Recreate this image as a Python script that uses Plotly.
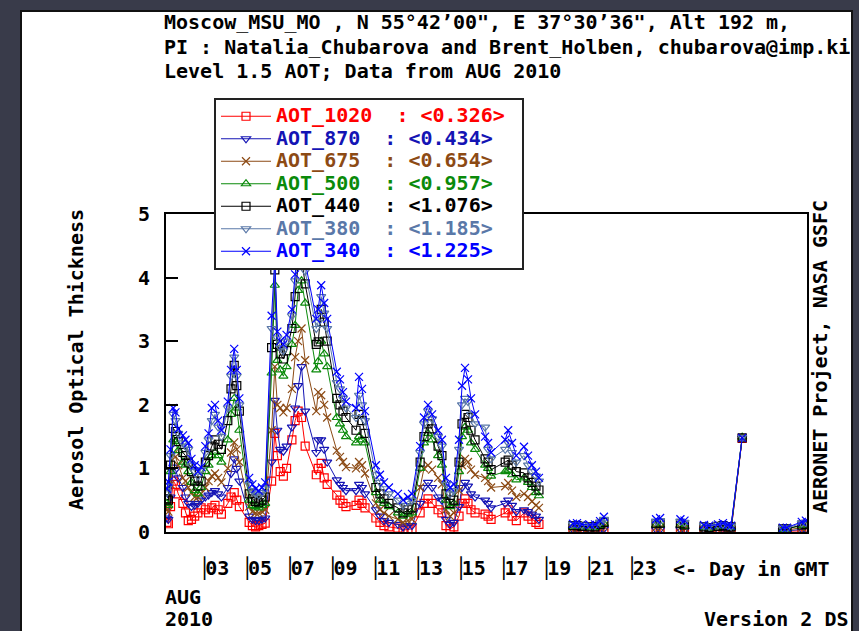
import plotly.graph_objects as go

# ---------------- data ----------------
day_gmt = [1.25, 1.32, 1.42, 1.55, 1.65, 1.78,
           2.00, 2.12, 2.25, 2.40, 2.55, 2.70, 2.85,
           3.05, 3.20, 3.35, 3.50, 3.65, 3.80,
           4.10, 4.25, 4.40, 4.52, 4.64,
           5.10, 5.25, 5.40, 5.55, 5.70, 5.85,
           6.15, 6.30, 6.42, 6.55, 6.70, 6.85,
           7.10, 7.25, 7.39, 7.55, 7.72,
           8.24, 8.33, 8.47, 8.61, 8.75,
           9.20, 9.35, 9.49, 9.63,
           10.10, 10.24, 10.38, 10.52,
           11.03, 11.22, 11.41, 11.64,
           12.06, 12.30, 12.53, 12.72,
           13.10, 13.28, 13.47, 13.66, 13.94,
           14.12, 14.31, 14.50, 14.68, 14.92,
           15.06, 15.20, 15.34, 15.48, 15.67,
           16.14, 16.28, 16.42,
           17.08, 17.22, 17.40, 17.60, 17.96,
           18.15, 18.33, 18.52, 18.66,
           20.25, 20.44, 20.67,
           21.05, 21.28, 21.52, 21.70,
           24.14, 24.33,
           25.28, 25.47,
           26.38, 26.62,
           27.04, 27.27, 27.50, 27.65,
           28.17,
           30.07, 30.26, 30.96, 31.15]

aot_1020 = [0.15, 0.13, 0.40, 0.80, 0.75, 0.60,
            0.45, 0.30, 0.18, 0.20, 0.25, 0.30, 0.38,
            0.35, 0.30, 0.38, 0.42, 0.35, 0.28,
            0.45, 0.55, 0.62, 0.50, 0.40,
            0.15, 0.10, 0.08, 0.10, 0.12, 0.14,
            0.80, 1.55, 1.20, 0.95, 0.88, 1.00,
            1.45, 1.75, 1.90, 1.80, 1.35,
            0.90, 1.00, 1.08, 0.85, 0.75,
            0.58, 0.50, 0.45, 0.40,
            0.42, 0.50, 0.45, 0.38,
            0.22, 0.15, 0.10, 0.08,
            0.06, 0.03, 0.04, 0.05,
            0.30, 0.45, 0.52, 0.45, 0.35,
            0.30, 0.10, 0.05, 0.08, 0.25,
            0.45, 0.52, 0.45, 0.35, 0.30,
            0.28, 0.25, 0.20,
            0.30, 0.35, 0.25, 0.18, 0.30,
            0.25, 0.20, 0.15, 0.12,
            0.02, 0.02, 0.02,
            0.02, 0.01, 0.02, 0.03,
            0.02, 0.02,
            0.02, 0.01,
            0.02, 0.01,
            0.02, 0.02, 0.01, 0.02,
            1.47,
            0.01, 0.01, 0.02, 0.02]

aot_870 = [0.22, 0.20, 0.55, 1.02, 0.98, 0.85,
           0.70, 0.55, 0.45, 0.40, 0.42, 0.45, 0.50,
           0.55, 0.58, 0.62, 0.65, 0.60, 0.55,
           0.70, 0.92, 1.15, 1.00, 0.80,
           0.25, 0.20, 0.18, 0.18, 0.20, 0.22,
           1.10, 2.07, 1.60, 1.30, 1.27, 1.35,
           1.65, 1.95, 2.30, 2.60, 1.90,
           1.25, 1.45, 1.45, 1.30, 1.10,
           0.82, 0.75, 0.70, 0.65,
           0.65, 0.75, 0.70, 0.60,
           0.35, 0.25, 0.18, 0.15,
           0.12, 0.08, 0.10, 0.10,
           0.45, 0.70, 0.78, 0.70, 0.55,
           0.50, 0.20, 0.12, 0.15, 0.40,
           0.70, 0.78, 0.72, 0.60, 0.55,
           0.50, 0.45, 0.38,
           0.45, 0.50, 0.42, 0.32, 0.35,
           0.32, 0.28, 0.25, 0.20,
           0.04, 0.04, 0.03,
           0.03, 0.03, 0.04, 0.05,
           0.04, 0.04,
           0.04, 0.03,
           0.03, 0.03,
           0.03, 0.04, 0.03, 0.03,
           1.48,
           0.02, 0.02, 0.04, 0.04]

aot_675 = [0.35, 0.32, 0.75, 1.22, 1.18, 1.05,
           0.85, 0.80, 0.70, 0.62, 0.55, 0.55, 0.60,
           0.70, 0.80, 0.88, 0.92, 0.85, 0.78,
           1.00, 1.25, 1.41, 1.30, 1.10,
           0.40, 0.32, 0.30, 0.30, 0.32, 0.35,
           1.60, 2.60, 2.00, 1.95, 1.88, 1.95,
           2.25, 2.75, 3.00, 3.20, 2.70,
           1.90, 2.20, 2.15, 2.00, 1.80,
           1.28, 1.18, 1.10, 1.02,
           1.00, 1.10, 1.05, 0.92,
           0.45, 0.35, 0.30, 0.25,
           0.20, 0.15, 0.18, 0.20,
           0.70, 1.00, 1.05, 0.98, 0.85,
           0.75, 0.35, 0.25, 0.30, 0.65,
           1.05, 1.15, 1.10, 0.98, 0.90,
           0.85, 0.80, 0.70,
           0.72, 0.77, 0.65, 0.55, 0.60,
           0.55, 0.48, 0.42, 0.38,
           0.06, 0.06, 0.05,
           0.05, 0.05, 0.07, 0.09,
           0.07, 0.07,
           0.07, 0.06,
           0.05, 0.05,
           0.05, 0.06, 0.05, 0.05,
           1.48,
           0.03, 0.03, 0.07, 0.07]

aot_500 = [0.45, 0.42, 0.95, 1.45, 1.42, 1.28,
           1.10, 1.05, 0.95, 0.78, 0.65, 0.60, 0.70,
           0.95, 1.05, 1.20, 1.25, 1.20, 1.10,
           1.45, 1.85, 2.10, 1.95, 1.60,
           0.50, 0.42, 0.40, 0.38, 0.42, 0.45,
           2.50, 3.88, 2.70, 2.55, 2.45, 2.60,
           2.95, 3.25, 3.80, 3.95, 3.60,
           2.55, 2.68, 3.00, 2.80, 2.60,
           1.80, 1.70, 1.60, 1.50,
           1.40, 1.50, 1.45, 1.40,
           0.62, 0.50, 0.45, 0.40,
           0.30, 0.25, 0.28, 0.30,
           1.00, 1.40, 1.55, 1.45, 1.20,
           1.05, 0.50, 0.40, 0.45, 0.95,
           1.50, 1.65, 1.60, 1.40, 1.30,
           1.05, 1.00, 0.88,
           0.95, 0.97, 0.90, 0.82, 0.85,
           0.78, 0.70, 0.62, 0.57,
           0.08, 0.09, 0.08,
           0.07, 0.07, 0.10, 0.13,
           0.11, 0.11,
           0.11, 0.09,
           0.07, 0.06,
           0.08, 0.09, 0.07, 0.07,
           1.49,
           0.04, 0.05, 0.10, 0.11]

aot_440 = [0.52, 0.50, 1.05, 1.63, 1.58, 1.42,
           1.25, 1.20, 1.10, 0.95, 0.80, 0.72, 0.80,
           1.10, 1.20, 1.35, 1.45, 1.38, 1.30,
           1.75, 2.25, 2.62, 2.30, 1.90,
           0.60, 0.52, 0.48, 0.46, 0.50, 0.55,
           2.90, 4.12, 2.95, 2.80, 2.72, 2.85,
           3.20, 3.70, 4.20, 4.30, 3.90,
           2.95, 2.99, 3.50, 3.30, 3.00,
           2.10, 2.00, 1.90, 1.80,
           1.60, 1.85, 1.75, 1.55,
           0.70, 0.60, 0.52, 0.45,
           0.38, 0.30, 0.35, 0.38,
           1.10, 1.50, 1.70, 1.62, 1.35,
           1.20, 0.60, 0.45, 0.50, 1.10,
           1.70, 1.85, 1.80, 1.60, 1.45,
           1.15, 1.10, 0.98,
           1.10, 1.13, 1.05, 0.95, 0.93,
           0.85, 0.78, 0.72, 0.66,
           0.10, 0.10, 0.09,
           0.08, 0.08, 0.12, 0.15,
           0.13, 0.14,
           0.13, 0.11,
           0.08, 0.07,
           0.09, 0.10, 0.08, 0.08,
           1.48,
           0.05, 0.05, 0.11, 0.12]

aot_380 = [0.62, 0.72, 1.20, 1.85, 1.75, 1.55,
           1.40, 1.35, 1.30, 1.05, 0.95, 0.88, 0.98,
           1.25, 1.45, 1.75, 1.85, 1.65, 1.50,
           1.95, 2.45, 2.75, 2.45, 2.00,
           0.75, 0.65, 0.60, 0.58, 0.62, 0.68,
           3.20, 4.20, 3.05, 2.90, 2.85, 3.00,
           3.40, 3.95, 4.40, 4.50, 4.10,
           3.20, 3.30, 3.70, 3.44, 3.20,
           2.35, 2.25, 2.10, 1.95,
           1.80, 2.15, 2.00, 1.75,
           0.90, 0.78, 0.68, 0.60,
           0.50, 0.42, 0.48, 0.50,
           1.25, 1.70, 1.90, 1.78, 1.50,
           1.35, 0.75, 0.60, 0.65, 1.30,
           2.00, 2.10, 2.05, 1.85, 1.70,
           1.65, 1.30, 1.15,
           1.30, 1.40, 1.25, 1.10, 1.20,
           1.05, 0.95, 0.88, 0.80,
           0.12, 0.12, 0.11,
           0.10, 0.10, 0.15, 0.20,
           0.17, 0.18,
           0.17, 0.15,
           0.10, 0.09,
           0.11, 0.12, 0.10, 0.09,
           1.49,
           0.06, 0.06, 0.14, 0.15]

aot_340 = [0.68, 0.79, 1.30, 1.95, 1.88, 1.62,
           1.52, 1.45, 1.40, 1.15, 1.05, 0.95, 1.02,
           1.35, 1.55, 1.95, 2.00, 1.75, 1.60,
           2.05, 2.55, 2.88, 2.55, 2.10,
           0.85, 0.75, 0.68, 0.65, 0.70, 0.78,
           3.40, 4.30, 3.15, 3.00, 2.95, 3.10,
           3.50, 4.05, 4.50, 4.65, 4.25,
           3.35, 3.50, 3.88, 3.60, 3.35,
           2.52, 2.40, 2.20, 2.05,
           1.95, 2.44, 2.25, 1.90,
           1.05, 0.90, 0.78, 0.70,
           0.60, 0.50, 0.55, 0.60,
           1.35, 1.80, 2.00, 1.85, 1.60,
           1.45, 0.85, 0.70, 0.75, 1.45,
           2.30, 2.58, 2.40, 2.10, 1.85,
           1.50, 1.40, 1.25,
           1.45, 1.60, 1.40, 1.20, 1.34,
           1.20, 1.05, 0.95, 0.85,
           0.13, 0.14, 0.12,
           0.11, 0.12, 0.17, 0.24,
           0.20, 0.22,
           0.20, 0.18,
           0.11, 0.10,
           0.12, 0.14, 0.11, 0.10,
           1.48,
           0.07, 0.07, 0.16, 0.18]

series_names = ["AOT_1020", "AOT_870", "AOT_675", "AOT_500", "AOT_440", "AOT_380", "AOT_340"]
series_means = ["0.326", "0.434", "0.654", "0.957", "1.076", "1.185", "1.225"]
series_values = [aot_1020, aot_870, aot_675, aot_500, aot_440, aot_380, aot_340]
series_colors = ["#ff0000", "#1414b4", "#8c4a14", "#0a8a0a", "#000000", "#5a78a8", "#0000ff"]
series_symbols = ["square-open", "triangle-down-open", "x-thin-open", "triangle-up-open",
                  "square-open", "triangle-down-open", "x-thin-open"]

day_ticks = [3, 5, 7, 9, 11, 13, 15, 17, 19, 21, 23]
day_tick_text = ["03", "05", "07", "09", "11", "13", "15", "17", "19", "21", "23"]

title_lines = ["Moscow_MSU_MO , N 55°42’00\", E 37°30’36\", Alt 192 m,",
               "PI : Natalia_Chubarova and Brent_Holben, chubarova@imp.ki",
               "Level 1.5 AOT; Data from AUG 2010"]

# ---------------- layout geometry ----------------
W, H = 859, 631
L, R, T, B = 166, 52, 214, 99
PW, PH = W - L - R, H - T - B
FONT = "DejaVu Sans Mono"
X0, X1 = 1.208, 31.203


def fx(px):
    return (px - L) / PW


def fy(py):
    return (H - B - py) / PH


def with_gaps(x, y, max_gap=0.8):
    xs, ys = [], []
    for i, (a, b) in enumerate(zip(x, y)):
        if i and a - x[i - 1] > max_gap:
            xs.append(None)
            ys.append(None)
        xs.append(a)
        ys.append(b)
    return xs, ys


fig = go.Figure()
for name, mean, vals, col, sym in zip(series_names, series_means, series_values,
                                      series_colors, series_symbols):
    xs, ys = with_gaps(day_gmt, vals)
    pad = "\u00a0" * 2
    label = (f'<span style="font-size:20px;color:{col}">{name}{pad}: '
             f'&lt;{mean}&gt;\u00a0</span>')
    fig.add_trace(go.Scatter(
        x=xs, y=ys, mode="lines+markers", name=label,
        line=dict(color=col, width=1),
        marker=dict(symbol=sym, size=8, color=col, line=dict(color=col, width=1.2)),
        connectgaps=False,
    ))

# tick labels "|dd": a right-edge bar glyph glued to the digits; the label is
# centred on its value, so shift it to put the bar on the day position
bar = "\u2595"
px_per_day = PW / (X1 - X0)
tick_shift = 7 / px_per_day
fig.update_xaxes(
    range=[X0, X1],
    tickvals=[d + tick_shift for d in day_ticks],
    ticktext=[bar + t for t in day_tick_text],
    tickangle=0,
    ticks="", showline=True, linecolor="#000", linewidth=2, mirror=True,
    showgrid=False, zeroline=False,
    tickfont=dict(family=FONT, size=20, color="#000", weight="bold"),
    ticklabelstandoff=17,
)
fig.update_yaxes(
    range=[0, 5], tickvals=[0, 1, 2, 3, 4, 5],
    ticks="inside", ticklen=12, tickwidth=2, tickcolor="#000",
    showline=True, linecolor="#000", linewidth=2, mirror=True,
    showgrid=False, zeroline=False,
    tickfont=dict(family=FONT, size=20, color="#000", weight="bold"),
    ticklabelstandoff=10,
)

annots = []
for txt, yc in zip(title_lines, [22, 47, 71]):
    annots.append(dict(text=txt, x=fx(163), y=fy(yc), xanchor="left", yanchor="middle",
                       height=22))
annots += [
    dict(text="&lt;- Day in GMT", x=fx(672), y=fy(569), xanchor="left", yanchor="middle"),
    dict(text="AUG", x=fx(164), y=fy(597), xanchor="left", yanchor="middle", height=22),
    dict(text="2010", x=fx(164), y=fy(631), xanchor="left", yanchor="bottom", height=22),
    dict(text="Version 2 DS", x=fx(850), y=fy(631), xanchor="right", yanchor="bottom",
         height=22),
    dict(text="Aerosol Optical Thickness", x=fx(76), y=fy(360), xanchor="center",
         yanchor="middle", textangle=-90),
    dict(text="AERONET Project, NASA GSFC", x=fx(820), y=fy(357), xanchor="center",
         yanchor="middle", textangle=-90),
]
for a in annots:
    a.update(xref="paper", yref="paper", showarrow=False, borderpad=0,
             font=dict(family=FONT, size=20, color="#000", weight="bold"))

fig.update_layout(
    width=W, height=H,
    margin=dict(l=L, r=R, t=T, b=B, pad=0, autoexpand=False),
    paper_bgcolor="#393b4a", plot_bgcolor="#ffffff",
    annotations=annots,
    shapes=[dict(type="rect", xref="paper", yref="paper", layer="below",
                 x0=fx(21), x1=fx(852), y0=fy(11), y1=fy(660),
                 fillcolor="#ffffff", line=dict(color="#111", width=2))],
    showlegend=True,
    legend=dict(xref="container", yref="container", x=214 / W, y=1 - 98 / H,
                xanchor="left", yanchor="top", bgcolor="#ffffff",
                bordercolor="#222", borderwidth=2, itemwidth=50,
                tracegroupgap=0, itemclick=False, itemdoubleclick=False,
                font=dict(family=FONT, size=15, color="#000", weight="bold")),
)

fig.write_html("out.html")
